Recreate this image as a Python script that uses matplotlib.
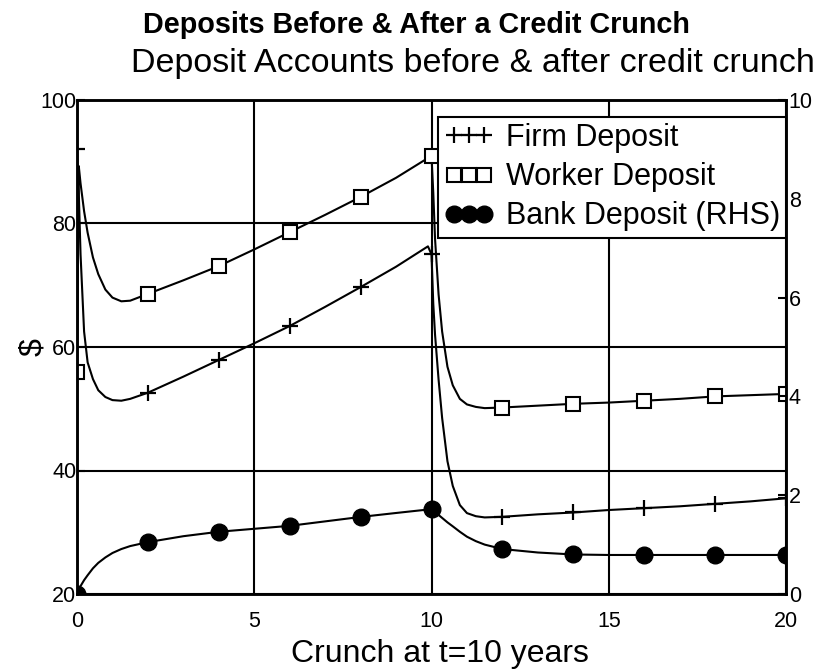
import matplotlib
matplotlib.use("Agg")
import matplotlib.pyplot as plt

plt.rcParams['font.family'] = ['Liberation Sans', 'DejaVu Sans']

# ---- data ----
t = [0, 0.05, 0.1, 0.2, 0.3, 0.45, 0.6, 0.8, 1.0, 1.25, 1.5, 2, 3, 4, 5, 6, 7, 8, 9, 9.9, 10,
     10.05, 10.1, 10.2, 10.3, 10.45, 10.6, 10.8, 11.0, 11.25, 11.5, 12, 13, 14, 15, 16, 17, 18, 19, 20]

firm = [92, 85, 75, 62.5, 57.5, 54.8, 53.0, 51.9, 51.4, 51.3, 51.6, 52.6, 55.2, 57.9, 60.6, 63.4, 66.5, 69.7, 73.0, 76.3, 75.0,
        67, 62, 54.7, 48.5, 41.5, 37.5, 34.4, 33.1, 32.6, 32.4, 32.5, 32.9, 33.2, 33.6, 33.9, 34.2, 34.6, 35.0, 35.5]

worker = [56, 89.3, 86.5, 82, 78.5, 74.5, 71.8, 69.3, 68.0, 67.4, 67.5, 68.6, 70.8, 73.1, 75.8, 78.6, 81.4, 84.3, 87.4, 90.6, 90.9,
          85, 77.5, 68.5, 62.5, 56.8, 53.8, 51.6, 50.7, 50.3, 50.1, 50.2, 50.5, 50.8, 51.0, 51.3, 51.6, 52.0, 52.2, 52.4]

bank = [0, 0.09, 0.16, 0.28, 0.38, 0.52, 0.63, 0.74, 0.83, 0.91, 0.97, 1.05, 1.17, 1.26, 1.32, 1.38, 1.47, 1.56, 1.64, 1.71, 1.72,
        1.70, 1.67, 1.60, 1.54, 1.45, 1.37, 1.26, 1.16, 1.07, 1.00, 0.91, 0.84, 0.80, 0.79, 0.79, 0.79, 0.79, 0.79, 0.79]

marker_t = [0, 2, 4, 6, 8, 10, 12, 14, 16, 18, 20]
labels = ['Firm Deposit', 'Worker Deposit', 'Bank Deposit (RHS)']
x_ticks = [0, 5, 10, 15, 20]
y_left_ticks = [20, 40, 60, 80, 100]
y_right_ticks = [0, 2, 4, 6, 8, 10]

title = 'Deposits Before & After a Credit Crunch'
subtitle = 'Deposit Accounts before & after credit crunch'
xlabel = 'Crunch at t=10 years'
ylabel = '$'

mark_idx = [i for i, v in enumerate(t) if v in marker_t]

fig = plt.figure(figsize=(8.22, 6.69), dpi=100)
ax = fig.add_axes([77 / 822, 1 - 594 / 669, (786 - 77) / 822, (594 - 100) / 669])
ax2 = ax.twinx()

lw = 1.5
l1, = ax.plot(t, firm, color='black', lw=lw, marker='+', markersize=11.5, mew=1.6,
              markevery=mark_idx, label=labels[0])
l2, = ax.plot(t, worker, color='black', lw=lw, marker='s', markersize=10.5, mew=1.5,
              mfc='white', mec='black', markevery=mark_idx, label=labels[1])
l3, = ax2.plot(t, bank, color='black', lw=lw, marker='o', markersize=12,
               mfc='black', mec='black', markevery=mark_idx, label=labels[2])

ax.set_xlim(0, 20)
ax.set_ylim(20, 100)
ax2.set_ylim(0, 10)
ax.set_xticks(x_ticks)
ax.set_yticks(y_left_ticks)
ax2.set_yticks(y_right_ticks)

ax.set_axisbelow(True)
ax.grid(True, color='black', lw=1.5)

for a in (ax, ax2):
    for s in a.spines.values():
        s.set_linewidth(1.8)
        s.set_color('black')

ax.tick_params(axis='x', direction='in', length=0, pad=12, labelsize=15.5)
ax.tick_params(axis='y', direction='in', length=6, width=1.5, pad=0.5, labelsize=15.5)
ax2.tick_params(axis='y', direction='in', length=6, width=1.5, pad=2, labelsize=15.5)

leg = ax2.legend(handles=[l1, l2, l3], loc='upper right', bbox_to_anchor=(1.0, 1 - 17 / 494),
                 borderaxespad=0, frameon=True, fancybox=False, edgecolor='black', framealpha=1,
                 prop={'size': 22}, numpoints=3, handlelength=1.6, handletextpad=0.4,
                 borderpad=0.2, labelspacing=0.3)
leg.get_frame().set_linewidth(1.5)

fig.text(416 / 822, 1 - 33 / 669, title, ha='center', va='baseline', fontsize=20.7, fontweight='bold')
fig.text(473 / 822, 1 - 72 / 669, subtitle, ha='center', va='baseline', fontsize=24.5)
fig.text(440 / 822, 1 - 662 / 669, xlabel, ha='center', va='baseline', fontsize=23)
fig.text(33 / 822, 1 - 347 / 669, ylabel, ha='center', va='center', fontsize=23, rotation=90)

fig.savefig('out.png', dpi=100, facecolor='white')
